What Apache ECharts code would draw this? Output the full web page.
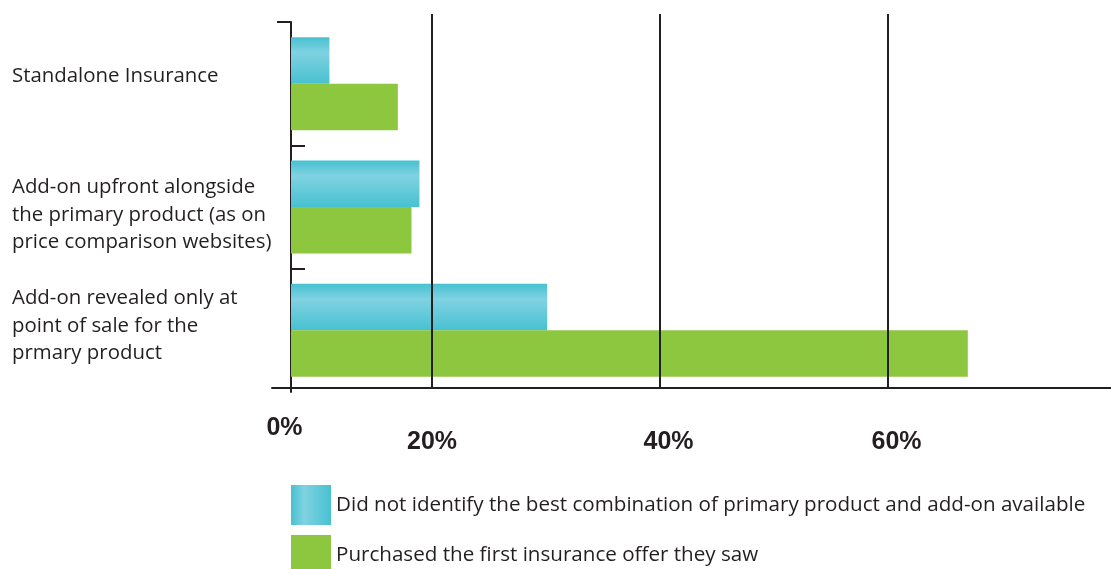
<!DOCTYPE html>
<html><head><meta charset="utf-8">
<script src="https://cdn.jsdelivr.net/npm/echarts@6/dist/echarts.min.js"></script>
<style>html,body{margin:0;padding:0;background:#fff}#chart{width:1111px;height:569px}</style>
</head><body><div id="chart"></div>
<script>
// ---- data ----
const categories = [
  'Standalone Insurance',
  'Add-on upfront alongside\nthe primary product (as on\nprice comparison websites)',
  'Add-on revealed only at\npoint of sale for the\nprmary product'
];
const seriesNames = [
  'Did not identify the best combination of primary product and add-on available',
  'Purchased the first insurance offer they saw'
];
const notIdentified = [11.0, 18.9, 30.1];
const firstOffer = [17.0, 18.2, 67.0];
const gridTicks = [20, 40, 60];
const baseLabel = '0%';
const axisStart = 7.63;   // value at which bars begin (labelled 0%)
const axisEnd = 79.56;
const lineStart = 5.97;   // horizontal axis line extends a little to the left

// ---- styling ----
const ink = '#231f20';
const stops = [{offset: 0, color: '#47c1d1'}, {offset: 0.33, color: '#80d2e1'}, {offset: 1, color: '#47c1d1'}];
const blueV = new echarts.graphic.LinearGradient(0, 0, 0, 1, stops);
const blueH = new echarts.graphic.LinearGradient(0, 0, 1, 0, stops);
const green = '#8dc63f';
const font = 'Open Sans';
const catPad = [[0, 0, 14, 0], [16, 0, 0, 0], [0, 0, 9, 0]];
const catRich = {};
catPad.forEach((p, i) => { catRich['c' + i] = {fontFamily: font, fontSize: 20.4, lineHeight: 27.5, color: ink, padding: p}; });
const tickFont = {fontFamily: 'Liberation Sans', fontSize: 25, fontWeight: 'bold', color: ink, lineHeight: 30};
const legendBase = {
  orient: 'vertical', left: 291, padding: 0,
  itemWidth: 40, itemHeight: 40, icon: 'rect', selectedMode: false,
  textStyle: {fontFamily: font, fontSize: 20.6, color: ink}
};

const chart = echarts.init(document.getElementById('chart'));
chart.setOption({
  animation: false,
  textStyle: {fontFamily: font, color: ink},
  grid: [
    {left: 291, right: 0, top: 22, height: 370},
    {left: 272, right: 0, top: 14, height: 374}
  ],
  xAxis: [
    {gridIndex: 0, type: 'value', min: axisStart, max: axisEnd,
     axisLine: {show: false}, axisTick: {show: false}, splitLine: {show: false},
     axisLabel: {
       customValues: [axisStart].concat(gridTicks), margin: 21,
       formatter: function (v) {
         const k = gridTicks.indexOf(v);
         if (k < 0) return '{z|' + baseLabel + '}';
         return (k === 0 ? '{a|' : '{b|') + v + '%}';
       },
       rich: {
         z: Object.assign({padding: [0, 13, 0, 0]}, tickFont),
         a: Object.assign({padding: [28, 0, 0, 0]}, tickFont),
         b: Object.assign({padding: [28, 0, 0, 17]}, tickFont)
       }
     }},
    {gridIndex: 1, type: 'value', min: lineStart, max: axisEnd,
     axisLine: {show: true, lineStyle: {color: ink, width: 2}},
     axisTick: {show: false}, axisLabel: {show: false}, splitLine: {show: false}}
  ],
  yAxis: [
    {gridIndex: 0, type: 'category', inverse: true, data: categories, position: 'left',
     axisLine: {show: true, lineStyle: {color: ink, width: 2}},
     axisTick: {show: false},
     axisLabel: {
       align: 'left', margin: 279,
       formatter: function (v, i) {
         return v.split('\n').map(l => '{c' + i + '|' + l + '}').join('\n');
       },
       rich: catRich
     }},
    {gridIndex: 0, type: 'value', min: 0, max: 3, inverse: true, position: 'left', offset: 0,
     axisLine: {show: false}, axisLabel: {show: false}, splitLine: {show: false},
     axisTick: {show: true, inside: true, length: 14, customValues: [1, 2], lineStyle: {color: ink, width: 2}}},
    {gridIndex: 0, type: 'value', min: 0, max: 3, inverse: true, position: 'left', offset: 0,
     axisLine: {show: false}, axisLabel: {show: false}, splitLine: {show: false},
     axisTick: {show: true, inside: false, length: 14, customValues: [0], lineStyle: {color: ink, width: 2}}},
    {gridIndex: 1, type: 'value', show: false}
  ],
  legend: [
    Object.assign({top: 485, data: [{name: seriesNames[0], itemStyle: {color: blueH}}]}, legendBase),
    Object.assign({top: 535, data: [{name: seriesNames[1]}]}, legendBase)
  ],
  series: [
    {name: seriesNames[0], type: 'bar', xAxisIndex: 0, yAxisIndex: 0, data: notIdentified,
     barWidth: 46.5, barGap: '0%', itemStyle: {color: blueV}},
    {name: seriesNames[1], type: 'bar', xAxisIndex: 0, yAxisIndex: 0, data: firstOffer,
     barWidth: 46.5, barGap: '0%', itemStyle: {color: green}},
    {name: 'grid', type: 'line', xAxisIndex: 1, yAxisIndex: 3, data: [],
     markLine: {silent: true, symbol: 'none', label: {show: false},
       lineStyle: {color: ink, width: 2, type: 'solid'},
       data: gridTicks.map(t => ({xAxis: t}))}}
  ]
});
</script></body></html>
